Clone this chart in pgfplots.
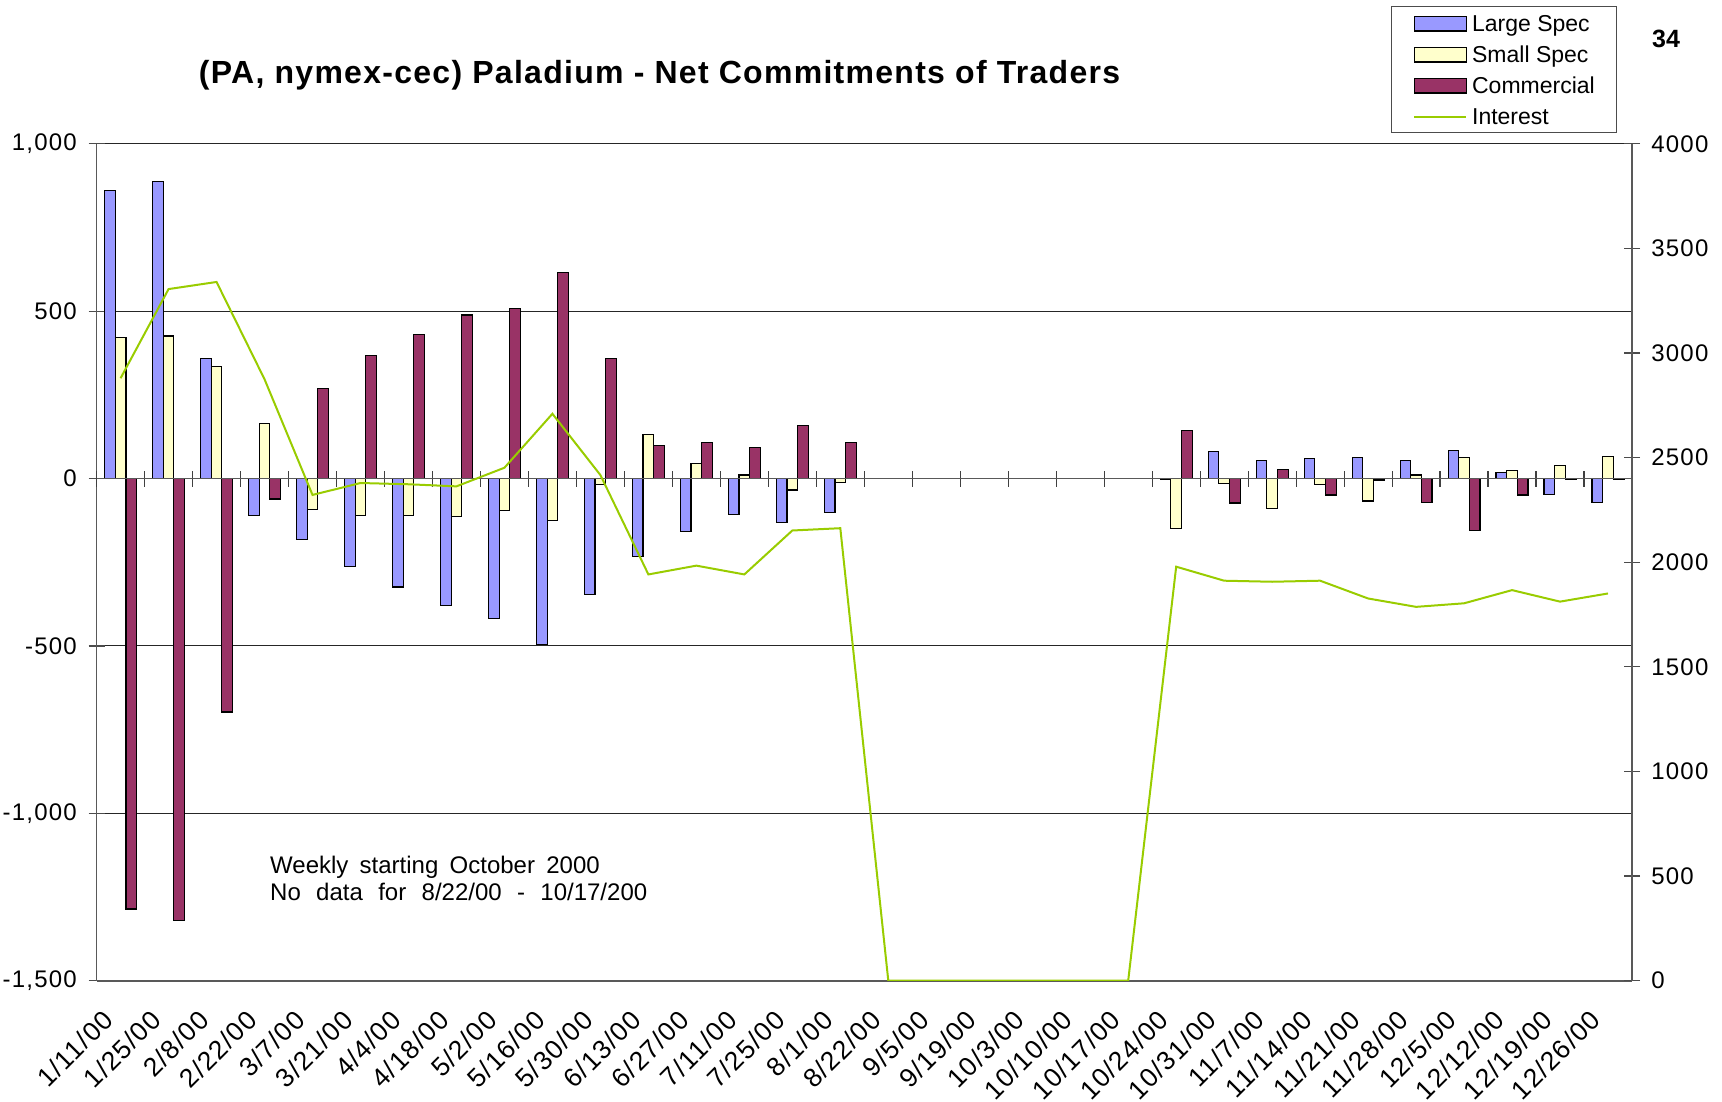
\documentclass[border=0pt]{standalone}
\usepackage{fontspec}
\setmainfont{Liberation Sans}
\newfontfamily\tickfont{Liberation Sans}[LetterSpace=5]
\newfontfamily\titlefont{Liberation Sans}[LetterSpace=4]
\newcommand\noteA{\fontsize{12bp}{14bp}\selectfont\spaceskip=0.47em\relax}
\newcommand\noteB{\fontsize{12bp}{14bp}\selectfont\spaceskip=0.64em\relax}
\usepackage{pgfplots}
\usepackage{pgfplotstable}
\pgfplotsset{compat=1.18}
\definecolor{large}{RGB}{153,153,255}
\definecolor{small}{RGB}{255,255,204}
\definecolor{comm}{RGB}{153,51,102}
\definecolor{inter}{RGB}{153,204,0}

\pgfplotstableread{
x large small comm
0 861 422 -1286
1 888 426 -1320
2 360 335 -697
3 -109 164 -61
4 -182 -92 269
5 -263 -109 368
6 -324 -109 430
7 -378 -113 489
8 -417 -95 509
9 -496 -124 616
10 -346 -17 358
11 -233 131 99
12 -157 46 109
13 -108 11 92
14 -130 -34 159
15 -102 -11 108
22 -3 -148 144
23 80 -14 -73
24 55 -89 28
25 60 -18 -49
26 62 -67 -4
27 55 11 -71
28 85 62 -155
29 18 25 -49
30 -48 39 -2
31 -71 66 -3
}\bars

\pgfplotstableread{
x y
0 2880
1 3306
2 3340
3 2875
4 2322
5 2379
6 2373
7 2363
8 2452
9 2710
10 2417
11 1942
12 1984
13 1942
14 2152
15 2163
16 0
17 0
18 0
19 0
20 0
21 0
22 1979
23 1912
24 1907
25 1912
26 1827
27 1787
28 1804
29 1867
30 1812
31 1851
}\interest

\pgfplotsset{
  base/.style={at={(0,0)}, anchor=south west, width=767.7bp, height=418.4bp,
    scale only axis, xmin=-0.5, xmax=31.5,
    /pgf/number format/assume math mode=true},
  barleg/.style={legend image code/.code={%
    \path[draw=none, fill=none] (0bp,0bp) rectangle (29bp,8bp);
    \draw[##1, draw=black, line width=0.6bp] (0bp,0.4bp) rectangle (26bp,7.8bp);}},
  lineleg/.style={legend image code/.code={%
    \path[draw=none, fill=none] (0bp,0bp) rectangle (29bp,8bp);
    \draw[##1] (0bp,4bp) -- (26bp,4bp);}},
}

\begin{document}
\begin{tikzpicture}
\path[use as bounding box] (-48.3bp,-60.65bp) rectangle (812.7bp,490.35bp);

\begin{axis}[base, ymin=-1500, ymax=1000,
  axis x line*=bottom, axis y line*=left,
  axis line style={black!65, line width=0.8bp},
  ytick={-1500,-1000,...,1000},
  yticklabels={{-1,500},{-1,000},{-500},{0},{500},{1,000}},
  ymajorgrids, grid style={black!85, line width=0.5bp},
  y tick style={black!70, line width=0.6bp},
  tick align=center, major tick length=8bp,
  yticklabel style={font=\fontsize{12bp}{14bp}\tickfont, inner sep=0pt, xshift=-5.7bp},
  xtick={0,...,31},
  xticklabels={1/11/00,1/25/00,2/8/00,2/22/00,3/7/00,3/21/00,4/4/00,4/18/00,5/2/00,5/16/00,5/30/00,6/13/00,6/27/00,7/11/00,7/25/00,8/1/00,8/22/00,9/5/00,9/19/00,10/3/00,10/10/00,10/17/00,10/24/00,10/31/00,11/7/00,11/14/00,11/21/00,11/28/00,12/5/00,12/12/00,12/19/00,12/26/00},
  x tick style={draw=none},
  xticklabel style={font=\fontsize{13.2bp}{15bp}\tickfont, xshift=-9.7bp, yshift=-5.6bp, rotate=45, anchor=north east, inner sep=0pt},
  ybar, bar width=0.222,
]
\addplot[fill=large, draw=black, line width=0.6bp, bar shift=-0.222] table[x=x,y=large]{\bars};
\addplot[fill=small, draw=black, line width=0.6bp, bar shift=0] table[x=x,y=small]{\bars};
\addplot[fill=comm, draw=black, line width=0.6bp, bar shift=0.222] table[x=x,y=comm]{\bars};
\end{axis}

\begin{axis}[base, ymin=-1500, ymax=1000,
  axis x line=middle, axis y line=none,
  xtick={-0.5,0.5,...,31.5}, xticklabels={},
  tick align=center, major tick length=8bp,
  x axis line style={-, black!65, line width=0.8bp},
  x tick style={black!75, line width=0.6bp},
]
\addplot[draw=none] coordinates {(0,0)};
\end{axis}

\begin{axis}[base, ymin=0, ymax=4000,
  axis y line*=right, axis x line=none,
  ytick={0,500,...,4000},
  /pgf/number format/1000 sep={},
  tick align=center, major tick length=8bp,
  y axis line style={black!65, line width=0.8bp},
  y tick style={black!70, line width=0.6bp},
  yticklabel style={font=\fontsize{12bp}{14bp}\tickfont, inner sep=0pt, xshift=5.5bp},
  legend style={at={(1,1)}, anchor=south east, xshift=-7.5bp, yshift=5.4bp,
    draw=black!70, line width=0.7bp, font=\fontsize{11.5bp}{13bp}\selectfont,
    inner xsep=10.75bp, inner ysep=0.5bp, row sep=0pt, cells={anchor=base west},
    nodes={inner xsep=0pt, inner ysep=0pt, text height=12.175bp, text depth=3.325bp}},
]
\addlegendimage{barleg, fill=large}
\addlegendentry{Large Spec}
\addlegendimage{barleg, fill=small}
\addlegendentry{Small Spec}
\addlegendimage{barleg, fill=comm}
\addlegendentry{Commercial}
\addplot[inter, line width=1bp, lineleg] table[x=x,y=y]{\interest};
\addlegendentry{Interest}
\end{axis}

\node[font=\fontsize{16bp}{18bp}\titlefont\bfseries] at (281.5bp,452.5bp) {(PA, nymex-cec) Paladium - Net Commitments of Traders};
\node[font=\fontsize{12.5bp}{14bp}\bfseries] at (784.7bp,470.9bp) {34};
\node[anchor=base west, inner sep=0pt, font=\noteA] at (86.6bp,53.7bp) {Weekly starting October 2000};
\node[anchor=base west, inner sep=0pt, font=\noteB] at (86.6bp,40bp) {No data for 8/22/00 - 10/17/200};
\end{tikzpicture}
\end{document}
